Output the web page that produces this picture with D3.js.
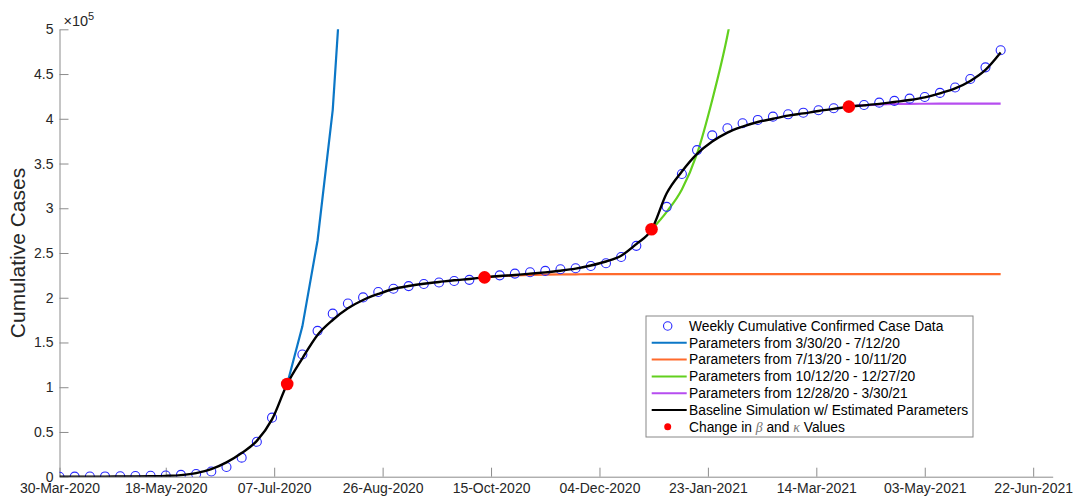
<!DOCTYPE html>
<html><head><meta charset="utf-8">
<script src="https://cdn.jsdelivr.net/npm/d3@7"></script>
<style>
html,body{margin:0;padding:0;background:#fff;}
svg{display:block;}
</style></head>
<body>
<svg id="chart" width="1075" height="498"></svg>
<script>
// ---------- DATA ----------
const weekDates = ["2020-03-30","2020-04-06","2020-04-13","2020-04-20","2020-04-27","2020-05-04","2020-05-11","2020-05-18","2020-05-25","2020-06-01",
"2020-06-08","2020-06-15","2020-06-22","2020-06-29","2020-07-06","2020-07-13","2020-07-20","2020-07-27","2020-08-03","2020-08-10",
"2020-08-17","2020-08-24","2020-08-31","2020-09-07","2020-09-14","2020-09-21","2020-09-28","2020-10-05","2020-10-12","2020-10-19",
"2020-10-26","2020-11-02","2020-11-09","2020-11-16","2020-11-23","2020-11-30","2020-12-07","2020-12-14","2020-12-21","2020-12-28",
"2021-01-04","2021-01-11","2021-01-18","2021-01-25","2021-02-01","2021-02-08","2021-02-15","2021-02-22","2021-03-01","2021-03-08",
"2021-03-15","2021-03-22","2021-03-29","2021-04-05","2021-04-12","2021-04-19","2021-04-26","2021-05-03","2021-05-10","2021-05-17",
"2021-05-24","2021-05-31","2021-06-07"];
// weekly cumulative confirmed cases (x 1e5)
const caseData = [0,0.001,0.002,0.003,0.005,0.007,0.010,0.013,0.020,0.030,
0.058,0.108,0.213,0.390,0.660,1.036,1.366,1.630,1.822,1.936,
2.004,2.064,2.100,2.130,2.154,2.170,2.187,2.200,2.228,2.250,
2.270,2.285,2.300,2.318,2.330,2.355,2.385,2.455,2.580,2.765,
3.016,3.383,3.650,3.815,3.894,3.950,3.987,4.024,4.050,4.068,
4.095,4.118,4.136,4.154,4.180,4.200,4.225,4.244,4.289,4.350,
4.445,4.575,4.766];
// baseline simulation (x 1e5)
const baseline = [0,0,0.001,0.001,0.002,0.003,0.005,0.009,0.018,0.040,
0.085,0.160,0.265,0.400,0.640,1.036,1.323,1.584,1.751,1.882,
1.975,2.042,2.098,2.131,2.157,2.176,2.195,2.210,2.228,2.243,
2.254,2.269,2.284,2.302,2.325,2.360,2.405,2.470,2.600,2.760,
3.167,3.410,3.607,3.745,3.845,3.912,3.964,4.000,4.035,4.060,
4.087,4.110,4.136,4.150,4.166,4.188,4.210,4.240,4.285,4.340,
4.423,4.546,4.740];
// parameter-period projections: start week index + values
const blueStart = 15;
const blueVals = [1.036,1.68,2.64,4.10,6.70];
const orangeStart = 28;
const orangeVals = [2.228,2.240,2.249,2.255,2.259,2.261,2.262,2.263,2.263,2.263,
2.263,2.263,2.263,2.263,2.263,2.263,2.263,2.263,2.263,2.263,
2.263,2.263,2.263,2.263,2.263,2.263,2.263,2.263,2.263,2.263,
2.263,2.263,2.263,2.263,2.263];
const greenStart = 39;
const greenVals = [2.760,2.960,3.210,3.610,4.210,4.930,5.900];
const purpleStart = 52;
const purpleVals = [4.136,4.152,4.160,4.165,4.167,4.168,4.169,4.170,4.170,4.170,4.170];
// change points
const changeDates = ["2020-07-13","2020-10-12","2020-12-28","2021-03-29"];
const changeVals = [1.036,2.228,2.765,4.136];
// axes
const xTickDates = ["2020-03-30","2020-05-18","2020-07-07","2020-08-26","2020-10-15","2020-12-04","2021-01-23","2021-03-14","2021-05-03","2021-06-22"];
const xTickLabels = ["30-Mar-2020","18-May-2020","07-Jul-2020","26-Aug-2020","15-Oct-2020","04-Dec-2020","23-Jan-2021","14-Mar-2021","03-May-2021","22-Jun-2021"];
const yTicks = [0,0.5,1,1.5,2,2.5,3,3.5,4,4.5,5];
const yTickLabels = ["0","0.5","1","1.5","2","2.5","3","3.5","4","4.5","5"];
const xDomain = ["2020-03-30","2021-07-01"];
const legendLabels = ["Weekly Cumulative Confirmed Case Data","Parameters from 3/30/20 - 7/12/20","Parameters from 7/13/20 - 10/11/20",
"Parameters from 10/12/20 - 12/27/20","Parameters from 12/28/20 - 3/30/21","Baseline Simulation w/ Estimated Parameters"];

// ---------- CHART ----------
(function(){
const parse = d3.utcParse("%Y-%m-%d");
const svg = d3.select("#chart");
const pL = 59.5, pR = 1052.7, pT = 29.3, pB = 476.7;
const x = d3.scaleUtc().domain(xDomain.map(parse)).range([pL, pR]);
const y = d3.scaleLinear().domain([0,5]).range([pB, pT]);
const font = "'Liberation Sans', Arial, Helvetica, sans-serif";
const axisColor = "#8c8c8c", textColor = "#262626";

svg.append("defs").append("clipPath").attr("id","clip")
  .append("rect").attr("x", pL).attr("y", pT).attr("width", pR-pL).attr("height", pB-pT);

// axes
const xAxis = d3.axisBottom(x).tickValues(xTickDates.map(parse))
  .tickFormat((d,i)=>xTickLabels[i]).tickSize(-9).tickSizeOuter(0).tickPadding(6);
const gx = svg.append("g").attr("transform",`translate(0,${pB})`).call(xAxis);
gx.select(".domain").attr("stroke",axisColor);
gx.selectAll(".tick line").attr("stroke",axisColor);
gx.selectAll(".tick text").attr("fill",textColor)
  .style("font-family","'Liberation Sans Narrow', 'Arial Narrow', sans-serif").style("font-size","14px")
  .attr("dy","0.72em");

const yAxis = d3.axisLeft(y).tickValues(yTicks).tickFormat((d,i)=>yTickLabels[i])
  .tickSize(-9).tickSizeOuter(0).tickPadding(6);
const gy = svg.append("g").attr("transform",`translate(${pL},0)`).call(yAxis);
gy.select(".domain").attr("stroke",axisColor);
gy.selectAll(".tick line").attr("stroke",axisColor);
gy.selectAll(".tick text").attr("fill",textColor).style("font-family",font).style("font-size","14px");

// exponent
const ex = svg.append("text").attr("x", pL+4).attr("y", 26).attr("fill",textColor)
  .style("font-family",font).style("font-size","14.5px");
ex.append("tspan").text("×10");
ex.append("tspan").attr("dy",-6).style("font-size","11px").text("5");

// y label
svg.append("text").attr("transform",`translate(25,${(pT+pB)/2}) rotate(-90)`)
  .attr("text-anchor","middle").attr("fill",textColor)
  .style("font-family",font).style("font-size","21px").text("Cumulative Cases");

// lines
const plot = svg.append("g").attr("clip-path","url(#clip)");
function seriesPts(start, vals){ return vals.map((v,i)=>[x(parse(weekDates[start+i])), y(v)]); }
const smooth = d3.line().curve(d3.curveMonotoneX);
const straight = d3.line();
const colors = {blue:"#0b77c7", orange:"#ff6a2c", green:"#62d01e", purple:"#b64df0"};

plot.append("path").attr("d", straight(seriesPts(blueStart, blueVals)))
  .attr("fill","none").attr("stroke",colors.blue).attr("stroke-width",2.2);
plot.append("path").attr("d", smooth(seriesPts(orangeStart, orangeVals)))
  .attr("fill","none").attr("stroke",colors.orange).attr("stroke-width",2.2);
plot.append("path").attr("d", smooth(seriesPts(greenStart, greenVals)))
  .attr("fill","none").attr("stroke",colors.green).attr("stroke-width",2.2);
plot.append("path").attr("d", smooth(seriesPts(purpleStart, purpleVals)))
  .attr("fill","none").attr("stroke",colors.purple).attr("stroke-width",2.2);

// data circles
plot.selectAll("circle.data").data(caseData).join("circle").attr("class","data")
  .attr("cx",(d,i)=>x(parse(weekDates[i]))).attr("cy",d=>y(d)).attr("r",4.5)
  .attr("fill","none").attr("stroke","#2828ff").attr("stroke-width",1.1);

// baseline
plot.append("path").attr("d", smooth(seriesPts(0, baseline)))
  .attr("fill","none").attr("stroke","#000").attr("stroke-width",2.4);

// change points
svg.selectAll("circle.chg").data(changeVals).join("circle").attr("class","chg")
  .attr("cx",(d,i)=>x(parse(changeDates[i]))).attr("cy",d=>y(d)).attr("r",6.3)
  .attr("fill","#ff0000");

// legend
const lg = svg.append("g");
const lx = 646, ly = 316, lw = 327, lh = 121;
lg.append("rect").attr("x",lx).attr("y",ly).attr("width",lw).attr("height",lh)
  .attr("fill","#fff").attr("stroke","#888").attr("stroke-width",1);
const rowY = i => 326 + i*16.8;
const lineColors = [colors.blue, colors.orange, colors.green, colors.purple, "#000"];
lg.append("circle").attr("cx",667.7).attr("cy",rowY(0)).attr("r",4.2)
  .attr("fill","none").attr("stroke","#2828ff").attr("stroke-width",1.1);
lineColors.forEach((c,i)=>{
  lg.append("line").attr("x1",651.7).attr("x2",686.7).attr("y1",rowY(i+1)).attr("y2",rowY(i+1))
    .attr("stroke",c).attr("stroke-width",2);
});
lg.append("circle").attr("cx",667.7).attr("cy",rowY(6)).attr("r",3.5).attr("fill","#ff0000");
legendLabels.forEach((t,i)=>{
  lg.append("text").attr("x",689).attr("y",rowY(i)).attr("dy","0.35em").attr("fill","#000")
    .style("font-family",font).style("font-size","13.8px").text(t);
});
const lt = lg.append("text").attr("x",689).attr("y",rowY(6)).attr("dy","0.35em").attr("fill","#000")
  .style("font-family",font).style("font-size","13.8px");
lt.append("tspan").text("Change in ");
lt.append("tspan").style("font-family","'Liberation Serif', serif").style("font-style","italic").attr("fill","#777").text("β");
lt.append("tspan").text(" and ");
lt.append("tspan").style("font-family","'Liberation Serif', serif").style("font-style","italic").attr("fill","#777").text("κ");
lt.append("tspan").text(" Values");
})();
</script>
</body></html>
